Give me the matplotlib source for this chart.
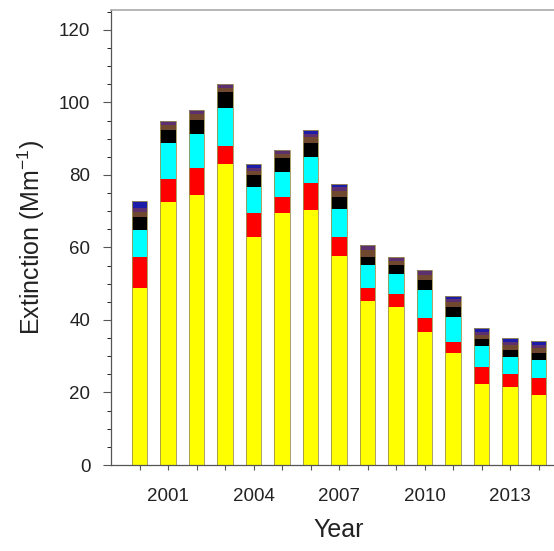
import numpy as np
import matplotlib
matplotlib.use("Agg")
import matplotlib.pyplot as plt
from matplotlib.ticker import MultipleLocator

plt.rcParams['font.family'] = ['Liberation Sans', 'DejaVu Sans']
plt.rcParams['mathtext.default'] = 'regular'

years = list(range(2000, 2015))

# stacked components, bottom to top (Mm-1)
yellow = [48.7, 72.6, 74.5, 82.9, 62.8, 69.4, 70.2, 57.7, 45.2, 43.5, 36.8, 30.8, 22.3, 21.6, 19.3]
red = [8.8, 6.3, 7.3, 5.2, 6.6, 4.4, 7.5, 5.1, 3.7, 3.7, 3.7, 3.2, 4.8, 3.5, 4.6]
cyan = [7.3, 9.8, 9.4, 10.3, 7.4, 7.1, 7.2, 7.8, 6.4, 5.5, 7.8, 6.7, 5.6, 4.6, 5.1]
black = [3.7, 3.7, 4.0, 4.4, 3.2, 3.7, 3.9, 3.4, 2.2, 2.5, 2.7, 3.0, 2.0, 2.0, 2.0]
brown = [1.3, 1.3, 1.5, 1.2, 1.0, 1.2, 1.7, 1.6, 1.8, 1.2, 1.5, 1.2, 1.2, 1.3, 1.2]
purple = [1.0, 0.9, 0.9, 0.8, 0.8, 0.8, 0.8, 1.0, 1.2, 0.9, 1.0, 0.9, 0.9, 1.0, 0.8]
blue = [2.0, 0.3, 0.3, 0.3, 1.1, 0.2, 1.1, 0.8, 0.2, 0.2, 0.2, 0.9, 1.1, 0.9, 1.2]

layers = [yellow, red, cyan, black, brown, purple, blue]
colors = ['#ffff00', '#ff0000', '#00ffff', '#000000', '#704830', '#5c2f6e', '#1c1ca8']

fig = plt.figure(figsize=(5.54, 5.51), dpi=100)
# right part of the plot is cut off in the original
ax = fig.add_axes([111/554, 1-465/551, 456/554, 455/551])

bottom = np.zeros(len(years))
for vals, c in zip(layers, colors):
    ax.bar(years, vals, width=0.56, bottom=bottom, color=c, linewidth=0)
    bottom += np.array(vals)
# thin outline round each full bar
ax.bar(years, bottom, width=0.56, fill=False, edgecolor='#a09050', linewidth=0.6)

ax.set_xlim(1999, 2015)
ax.set_ylim(0, 125.5)

ax.set_xticks(years)
ax.set_xticklabels([str(y) if (y - 2001) % 3 == 0 else '' for y in years])
ax.yaxis.set_major_locator(MultipleLocator(20))
ax.yaxis.set_minor_locator(MultipleLocator(5))

ax.tick_params(axis='both', direction='out', colors='#555555',
               labelcolor='#222222', labelsize=13.5)
ax.tick_params(axis='y', which='major', length=5.8, width=0.8, pad=9)
ax.tick_params(axis='y', which='minor', length=3, width=0.6)
ax.tick_params(axis='x', which='major', length=3.6, width=0.8, pad=13)

for s in ['left', 'bottom']:
    ax.spines[s].set_color('#555555')
    ax.spines[s].set_linewidth(0.9)
ax.spines['top'].set_color('#aaaaaa')
ax.spines['top'].set_linewidth(1.2)
ax.spines['right'].set_visible(False)

ax.set_xlabel('Year', fontsize=18, color='#222222', labelpad=9)
ax.set_ylabel('Extinction (Mm$^{-1}$)', fontsize=18, color='#222222', labelpad=9)

fig.savefig('out.png', dpi=100)
